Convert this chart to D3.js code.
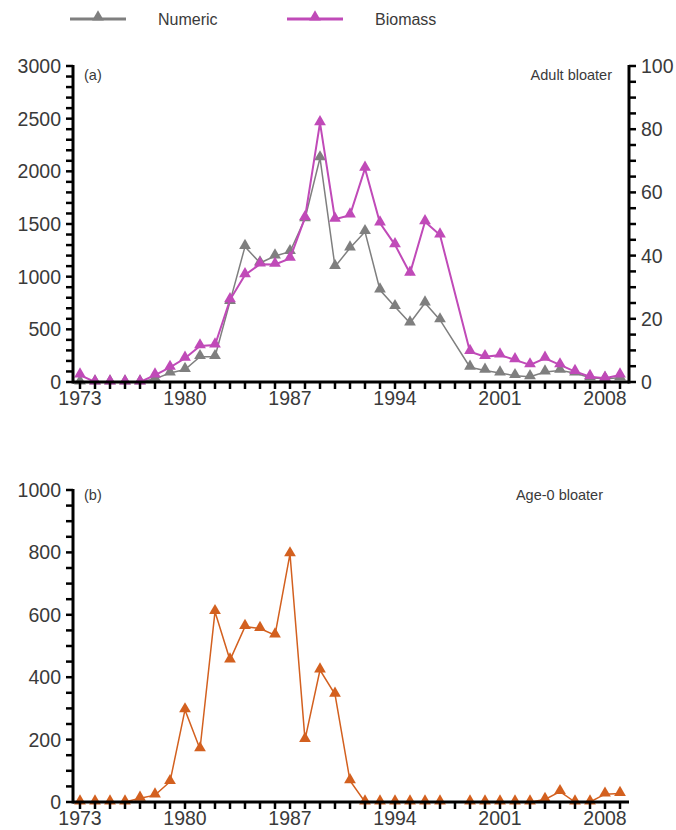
<!DOCTYPE html>
<meta charset="utf-8">
<style>
body { margin: 0; background: #fff; }
svg text { font-family: "Liberation Sans", Arial, sans-serif; fill: #3a3a3a; }
.axis path, .axis line { stroke: #000; }
</style>
<body>
<div id="chart"></div>
<script src="https://cdn.jsdelivr.net/npm/d3@7"></script>
<script>

// years 1973-2009, no survey in 1998
var years = d3.range(1973, 2010);

// (a) adult bloater, numeric density (left axis)
var numeric = [0, 0, 0, 0, 0, 30, 85, 118, 240, 240, 763, 1285, 1130, 1196, 1237, 1550, 2127, 1095, 1272, 1427, 873, 715, 560, 750, 589, null,
  140, 110, 85, 60, 50, 95, 110, 85, 40, 30, 40];

// (a) adult bloater, biomass (right axis)
var biomass = [2.2, 0, 0, 0, 0, 2.2, 4.6, 7.5, 11.4, 11.7, 26, 33.9, 37.3, 37.2, 39.1, 52, 82, 51.5, 52.8, 67.6, 50.3, 43.4, 34.4, 50.7, 46.5, null,
  9.6, 8, 8.5, 7, 5.4, 7.5, 5.4, 3.3, 1.7, 1.2, 2.2];

// (b) age-0 bloater
var age0 = [0, 0, 0, 0, 12, 22, 65, 295, 170, 610, 455, 562, 556, 535, 795, 200, 423, 345, 68, 0, 0, 0, 0, 0, 0, null,
  0, 0, 0, 0, 0, 8, 33, 0, 0, 25, 27];

var yearLabels = [1973, 1980, 1987, 1994, 2001, 2008];
var leftTicksA = [0, 500, 1000, 1500, 2000, 2500, 3000];
var rightTicksA = [0, 20, 40, 60, 80, 100];
var leftTicksB = [0, 200, 400, 600, 800, 1000];

var grey = "#7f7f7f", pink = "#c04ab8", orange = "#d3601f";

var svg = d3.select("#chart").append("svg")
    .attr("width", 676)
    .attr("height", 830);

var x = d3.scaleLinear().domain([1973, 2009]).range([80, 620]);
var axisLeft = 73, axisRight = 629;

function pts(vals) {
  return years.map(function(yr, i) { return {year: yr, v: vals[i]}; })
    .filter(function(d) { return d.v != null; });
}

function drawXAxis(y0) {
  var g = svg.append("g").attr("class", "axis");
  g.append("line")
    .attr("x1", axisLeft).attr("x2", axisRight)
    .attr("y1", y0).attr("y2", y0)
    .attr("stroke-width", 3);
  g.selectAll("line.tk").data(years).enter().append("line")
    .attr("class", "tk")
    .attr("x1", function(d) { return x(d); }).attr("x2", function(d) { return x(d); })
    .attr("y1", y0).attr("y2", y0 + 7)
    .attr("stroke-width", 2.5);
  g.selectAll("text").data(yearLabels).enter().append("text")
    .attr("x", function(d) { return x(d); })
    .attr("y", y0 + 23)
    .attr("text-anchor", "middle")
    .style("font-size", "19.5px")
    .text(function(d) { return d; });
}

function drawYAxis(scale, xPos, majors, step, side) {
  var g = svg.append("g").attr("class", "axis");
  var dom = scale.domain();
  var r = scale.range();
  g.append("line")
    .attr("x1", xPos).attr("x2", xPos)
    .attr("y1", r[0] + 1.5).attr("y2", r[1] - 1)
    .attr("stroke-width", 3);
  var all = d3.range(dom[0], dom[1] + step / 2, step);
  var dir = side === "left" ? -1 : 1;
  g.selectAll("line.tk").data(all).enter().append("line")
    .attr("class", "tk")
    .attr("x1", xPos).attr("x2", xPos + dir * 7)
    .attr("y1", function(d) { return scale(d); })
    .attr("y2", function(d) { return scale(d); })
    .attr("stroke-width", 2.5);
  g.selectAll("text").data(majors).enter().append("text")
    .attr("x", xPos + dir * 12)
    .attr("y", function(d) { return scale(d) + 7; })
    .attr("text-anchor", side === "left" ? "end" : "start")
    .style("font-size", "19.5px")
    .text(function(d) { return d; });
}

function drawSeries(data, scale, color, width) {
  var line = d3.line()
    .x(function(d) { return x(d.year); })
    .y(function(d) { return scale(d.v); });
  svg.append("path")
    .datum(data)
    .attr("d", line)
    .attr("fill", "none")
    .attr("stroke", color)
    .attr("stroke-width", width);
  svg.selectAll(null).data(data).enter().append("path")
    .attr("d", d3.symbol().type(d3.symbolTriangle).size(60))
    .attr("transform", function(d) { return "translate(" + x(d.year) + "," + (scale(d.v) - 1) + ")"; })
    .attr("fill", color);
}

// ---- panel (a)
var yA = d3.scaleLinear().domain([0, 3000]).range([382, 66]);
var yA2 = d3.scaleLinear().domain([0, 100]).range([382, 66]);

drawSeries(pts(numeric), yA, grey, 1.5);
drawSeries(pts(biomass), yA2, pink, 2);
drawXAxis(382);
drawYAxis(yA, axisLeft, leftTicksA, 100, "left");
drawYAxis(yA2, axisRight, rightTicksA, 5, "right");

svg.append("text").attr("x", 84).attr("y", 80).style("font-size", "14.5px").text("(a)");
svg.append("text").attr("x", 612).attr("y", 80).attr("text-anchor", "end").style("font-size", "14.5px").text("Adult bloater");

// ---- panel (b)
var yB = d3.scaleLinear().domain([0, 1000]).range([802, 490]);
drawSeries(pts(age0), yB, orange, 1.5);
drawXAxis(802);
drawYAxis(yB, axisLeft, leftTicksB, 50, "left");

svg.append("text").attr("x", 84).attr("y", 500).style("font-size", "14.5px").text("(b)");
svg.append("text").attr("x", 603).attr("y", 500).attr("text-anchor", "end").style("font-size", "14.5px").text("Age-0 bloater");

// ---- legend
var legend = [{name: "Numeric", color: grey, x: 70}, {name: "Biomass", color: pink, x: 287}];
legend.forEach(function(l) {
  svg.append("line")
    .attr("x1", l.x).attr("x2", l.x + 56)
    .attr("y1", 19).attr("y2", 19)
    .attr("stroke", l.color).attr("stroke-width", 3);
  svg.append("path")
    .attr("d", d3.symbol().type(d3.symbolTriangle).size(60))
    .attr("transform", "translate(" + (l.x + 28) + ",17)")
    .attr("fill", l.color);
  svg.append("text")
    .attr("x", l.x + 88).attr("y", 25)
    .style("font-size", "16px")
    .text(l.name);
});

</script>
</body>
